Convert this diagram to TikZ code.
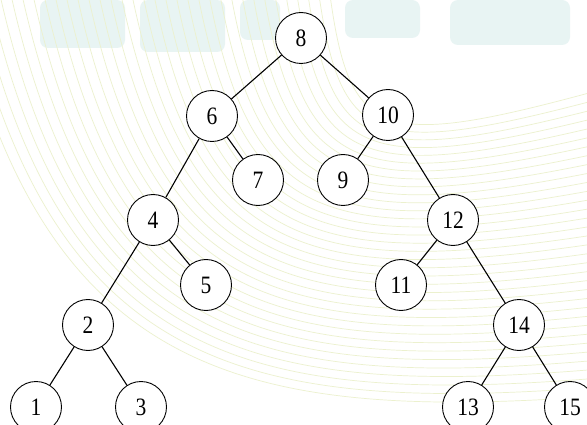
\documentclass[tikz,border=0pt]{standalone}
\usepackage{fontspec}
\setmainfont{Liberation Serif}
\newfontfamily\narrowserif[FakeStretch=0.86]{Liberation Serif}
\definecolor{bgc}{RGB}{236,241,206}
\definecolor{wmc}{RGB}{232,244,243}
\begin{document}
\begin{tikzpicture}[x=1pt,y=-1pt,
  tn/.style={circle,draw=black,line width=0.9pt,fill=white,minimum size=51pt,inner sep=0pt,font=\narrowserif\fontsize{25}{27}\selectfont},
  edge/.style={draw=black,line width=1.1pt},
  bgline/.style={draw=bgc,line width=0.7pt},
  bgmark/.style={fill=wmc,draw=none}]
\useasboundingbox (0,0) rectangle (587,425);
\clip (0,0) rectangle (587,425);
\fill[white] (0,0) rectangle (587,425);
% faint watermark background
\fill[bgmark,rounded corners=8pt] (40,0) rectangle (125,48);
\fill[bgmark,rounded corners=8pt] (140,0) rectangle (225,52);
\fill[bgmark,rounded corners=8pt] (240,0) rectangle (280,40);
\fill[bgmark,rounded corners=8pt] (345,0) rectangle (420,38);
\fill[bgmark,rounded corners=8pt] (450,0) rectangle (570,45);
\foreach \i in {0,...,34}{
  \draw[bgline] (330-11*\i,-5) .. controls (350-9*\i,140+7*\i) and (380-4*\i,150+8*\i) .. (600,90+9*\i);
}
% tree nodes
\node[tn] (n8) at (301,38) {8};
\node[tn] (n6) at (212,116) {6};
\node[tn] (n10) at (388,115) {10};
\node[tn] (n7) at (258,180) {7};
\node[tn] (n9) at (343,180) {9};
\node[tn] (n4) at (153,220) {4};
\node[tn] (n12) at (453,220) {12};
\node[tn] (n5) at (206,285) {5};
\node[tn] (n11) at (401,285) {11};
\node[tn] (n2) at (88,325) {2};
\node[tn] (n14) at (519,325) {14};
\node[tn] (n1) at (36,407) {1};
\node[tn] (n3) at (141,407) {3};
\node[tn] (n13) at (468,407) {13};
\node[tn] (n15) at (570,407) {15};
% edges
\draw[edge] (n8) -- (n6);
\draw[edge] (n8) -- (n10);
\draw[edge] (n6) -- (n4);
\draw[edge] (n6) -- (n7);
\draw[edge] (n10) -- (n9);
\draw[edge] (n10) -- (n12);
\draw[edge] (n4) -- (n2);
\draw[edge] (n4) -- (n5);
\draw[edge] (n12) -- (n11);
\draw[edge] (n12) -- (n14);
\draw[edge] (n2) -- (n1);
\draw[edge] (n2) -- (n3);
\draw[edge] (n14) -- (n13);
\draw[edge] (n14) -- (n15);
\end{tikzpicture}
\end{document}
